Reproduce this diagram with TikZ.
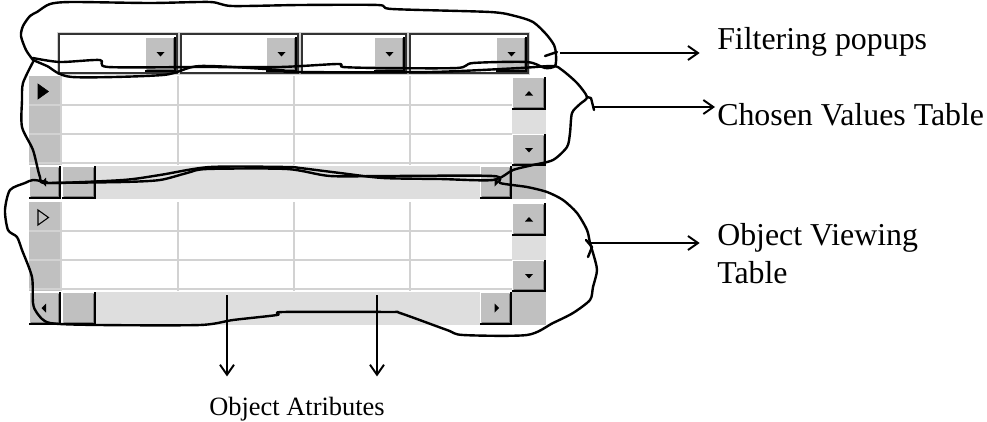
\documentclass[tikz,border=0pt]{standalone}
\usepackage{fontspec}
\setmainfont{Liberation Serif}
\usetikzlibrary{arrows.meta}

\definecolor{winface}{HTML}{C0C0C0}
\definecolor{winshadow}{HTML}{808080}
\definecolor{gridgray}{HTML}{D2D2D2}
\definecolor{tracklt}{HTML}{DEDEDE}
\definecolor{popborder}{HTML}{333333}

% 3D push button from (x1,ytop) to (x2,ybottom)
\newcommand{\wbtn}[4]{%
  \fill[winface] (#1,#2) rectangle (#3,#4);
  \draw[white,line width=0.8pt] (#1+0.6,#4-1) -- (#1+0.6,#2+0.6) -- (#3-1,#2+0.6);
  \draw[winshadow,line width=0.8pt] (#1+1.5,#4-2.3) -- (#3-2.3,#4-2.3) -- (#3-2.3,#2+1.5);
  \draw[black,line width=1.2pt] (#1,#4-0.8) -- (#3-0.8,#4-0.8) -- (#3-0.8,#2);
}

% drop-down filter box between x-left and x-right
\newcommand{\wpopup}[2]{%
  \fill[white] (#1,34) rectangle (#2,73);
  \draw[gridgray,line width=0.8pt] (#1-1.8,32.2) rectangle (#2+1.8,74.8);
  \draw[popborder,line width=1.9pt] (#1,34) rectangle (#2,73);
  \wbtn{#2-32}{36.8}{#2-1.4}{71.6}
  \fill[black] (#2-20.5,52) -- (#2-12.5,52) -- (#2-16.5,56.5) -- cycle;
}

% grid with row headers and both scroll bars; #1 = top edge, #2 = row marker style
\newcommand{\wtable}[2]{%
  \fill[white] (61,#1) rectangle (512,#1+89);
  \fill[winface] (29,#1) rectangle (61,#1+89);
  \foreach \r in {29,58,87} \draw[gridline] (29,#1+\r) -- (512,#1+\r);
  \foreach \c in {61,178,294,410} \draw[gridline] (\c,#1) -- (\c,#1+89);
  \draw[#2] (38,#1+8) -- (38,#1+23) -- (48.5,#1+15.5) -- cycle;
  % vertical scroll bar
  \wbtn{512}{#1+1}{546}{#1+34}
  \fill[tracklt] (512,#1+34) rectangle (546,#1+58);
  \wbtn{512}{#1+58}{546}{#1+90}
  \fill[black] (525,#1+19.5) -- (533,#1+19.5) -- (529,#1+15) -- cycle;
  \fill[black] (525,#1+72) -- (533,#1+72) -- (529,#1+76.5) -- cycle;
  % horizontal scroll bar
  \wbtn{29}{#1+90}{61}{#1+123}
  \wbtn{62}{#1+90}{96}{#1+123}
  \fill[tracklt] (96,#1+90) rectangle (480,#1+123);
  \wbtn{480}{#1+90}{512}{#1+123}
  \fill[winface] (512,#1+90) rectangle (546,#1+123);
  \fill[black] (41.5,#1+106) -- (46,#1+101.5) -- (46,#1+110.5) -- cycle;
  \fill[black] (499,#1+106) -- (494.5,#1+101.5) -- (494.5,#1+110.5) -- cycle;
}

\begin{document}
\begin{tikzpicture}[x=0.75pt,y=-0.75pt,
  gridline/.style={gridgray,line width=1.1pt},
  scribble/.style={black,line width=1.8pt,line join=round,line cap=round},
  pointer/.style={black,line width=1.45pt,-{Straight Barb[length=7.5pt,width=10.5pt]}},
  lbl/.style={inner sep=0pt,font=\fontsize{23.9pt}{28pt}\selectfont},
  lblsmall/.style={inner sep=0pt,font=\fontsize{19.8pt}{24pt}\selectfont}]
\useasboundingbox (0,0) rectangle (987,421);

% filter drop-downs
\wpopup{59}{177}
\wpopup{181}{298}
\wpopup{302}{406}
\wpopup{410}{528}

% chosen values table and object viewing table
\wtable{76}{fill=black}
\wtable{202}{draw=black,line width=0.8pt,fill=winface}

% hand-drawn outline round the filter drop-downs
\draw[scribble] plot[smooth,tension=0.45] coordinates {
  (33,60) (26,50) (21,36) (23,26) (30,16) (37,12) (50,4) (72,2) (150,3)
  (210,2) (232,6) (300,5) (378,5) (392,9) (490,12) (515,16) (533,22)
  (546,34) (554,45) (556,55) (555,66) (545,68) (527,62) (473,63)
  (457,68) (380,68) (343,67) (338,64) (280,67) (200,67) (108,67)
  (100,60) (60,62) (33,58)};
\draw[scribble] (545,56) -- (557,52);

% hand-drawn outline round the chosen values table
\draw[scribble] plot[smooth,tension=0.45] coordinates {
  (33,60) (47,66) (72,77) (163,75) (200,66) (280,70) (293,72) (430,72)
  (520,68) (553,66) (562,70) (577,83) (587,97) (580,104) (572,113)
  (570,133) (567,147) (553,160) (533,165) (513,170) (493,180) (440,179)
  (383,178) (340,173) (300,168) (287,167) (210,167) (160,175) (123,180)
  (47,183) (40,177) (33,150) (22,127) (22,100) (23,83) (33,62)};
\draw[scribble] (587,97) -- (591,98) -- (594,110);

% hand-drawn outline round the object viewing table
\draw[scribble] plot[smooth,tension=0.45] coordinates {
  (47,183) (123,182) (160,180) (187,173) (207,169) (287,169) (330,176)
  (387,176) (493,176) (500,183) (527,187) (547,192) (563,200) (577,213)
  (587,230) (590,243) (593,253) (597,270) (593,287) (590,300) (573,313)
  (553,323) (527,335) (463,335) (447,330) (400,313) (390,312) (283,312)
  (277,315) (233,320) (200,325) (100,325) (50,323) (37,313) (33,303)
  (32,277) (22,250) (17,237) (8,230) (5,210) (10,190) (25,183) (33,180)
  (47,182)};
\draw[scribble] (586,240) -- (592,247) -- (588,257);

% labels
\node[lbl,anchor=base west] (fp) at (717,49) {Filtering popups};
\node[lbl,anchor=base west] (cv) at (717,125) {Chosen Values Table};
\node[lbl,anchor=base west] (ov) at (717,245) {Object Viewing};
\node[lbl,anchor=base west] (ovb) at (717,283) {Table};
\node[lblsmall,anchor=base] (oa) at (297,415) {Object Atributes};

% pointers from the outlines to their labels
\coordinate (fpt) at (560,53);
\coordinate (cvt) at (593,107);
\coordinate (ovt) at (591,243);
\coordinate (oa1) at (227,295);
\coordinate (oa2) at (377,295);
\draw[pointer] (fpt) -- ([xshift=-13pt]fpt -| fp.west);
\draw[pointer] (cvt) -- ([xshift=-1.5pt]cvt -| cv.west);
\draw[pointer] (ovt) -- ([xshift=-13pt]ovt -| ov.west);
\draw[pointer] (oa1) -- ([yshift=15pt]oa1 |- oa.north);
\draw[pointer] (oa2) -- ([yshift=15pt]oa2 |- oa.north);
\end{tikzpicture}
\end{document}
